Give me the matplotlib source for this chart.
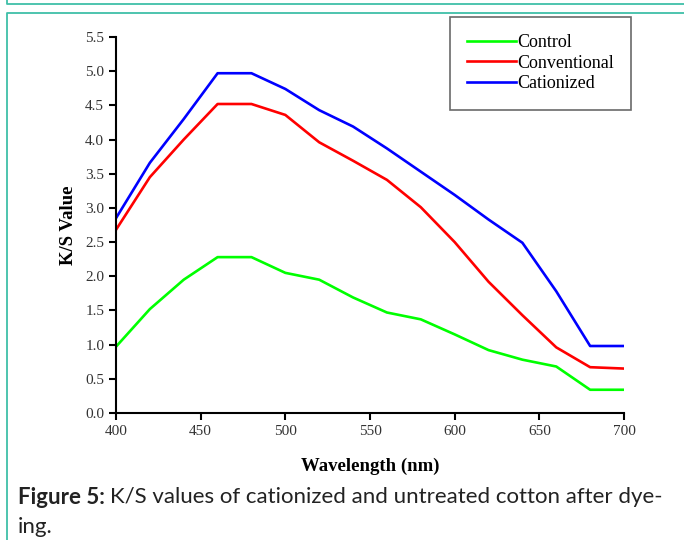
import numpy as np
import matplotlib.pyplot as plt
from matplotlib.lines import Line2D

# Data
wavelength = [400, 420, 440, 460, 480, 500, 520, 540, 560, 580, 600, 620, 640, 660, 680, 700]
control = [0.97, 1.52, 1.95, 2.28, 2.28, 2.05, 1.95, 1.69, 1.47, 1.37, 1.15, 0.92, 0.78, 0.68, 0.34, 0.34]
conventional = [2.68, 3.45, 4.00, 4.52, 4.52, 4.36, 3.96, 3.69, 3.41, 3.01, 2.50, 1.92, 1.43, 0.96, 0.67, 0.65]
cationized = [2.85, 3.66, 4.30, 4.97, 4.97, 4.74, 4.43, 4.19, 3.87, 3.53, 3.19, 2.83, 2.49, 1.78, 0.98, 0.98]
series_names = ['Control', 'Conventional', 'Cationized']
xticks = [400, 450, 500, 550, 600, 650, 700]
yticks = [0.0, 0.5, 1.0, 1.5, 2.0, 2.5, 3.0, 3.5, 4.0, 4.5, 5.0, 5.5]

W, H = 684, 540
fig = plt.figure(figsize=(W / 100, H / 100), dpi=100)

# teal page frames
teal = '#3fbfa8'
def fline(xs, ys):
    fig.add_artist(Line2D([x / W for x in xs], [1 - y / H for y in ys],
                          color=teal, lw=1.3, transform=fig.transFigure))
fline([7, 7, 690], [-2, 4, 4])
fline([7, 7, 690], [545, 13, 13])

ax = fig.add_axes([116 / W, 1 - 413 / H, 508 / W, 376 / H])
serif = 'Liberation Serif'

ax.plot(wavelength, control, color='#00ff00', lw=1.9, label=series_names[0])
ax.plot(wavelength, conventional, color='#ff0000', lw=1.9, label=series_names[1])
ax.plot(wavelength, cationized, color='#0000ff', lw=1.9, label=series_names[2])

ax.set_xlim(400, 700)
ax.set_ylim(0, 5.5)
ax.set_xticks(xticks)
ax.set_yticks(yticks)
ax.set_yticklabels([f'{v:.1f}' for v in yticks])
for s in ['top', 'right']:
    ax.spines[s].set_visible(False)
for s in ['left', 'bottom']:
    ax.spines[s].set_linewidth(1.5)
ax.tick_params(direction='out', length=5, width=1.5, colors='black',
               labelcolor='#333333', labelsize=11)
for lab in ax.get_xticklabels() + ax.get_yticklabels():
    lab.set_family(serif)

ax.set_xlabel('Wavelength (nm)', family=serif, fontweight='bold', fontsize=13.5, labelpad=14)
ax.set_ylabel('K/S Value', family=serif, fontweight='bold', fontsize=13.5, labelpad=6)

leg = fig.legend(loc='upper left', bbox_to_anchor=(450 / W, 1 - 17 / H),
                 prop={'family': serif, 'size': 13}, frameon=True, fancybox=False,
                 handlelength=2.7, handletextpad=0.05, borderpad=0.95, labelspacing=0.2,
                 borderaxespad=0)
leg.get_frame().set_edgecolor('#444444')
leg.get_frame().set_linewidth(1.2)

# caption
cap_font = 'Lato'
cap_size = 16
t1 = fig.text(18 / W, 1 - 497 / H, 'Figure 5:', family=cap_font, fontweight='bold',
              fontsize=cap_size, va='center', color='#222222')
fig.canvas.draw()
bb = t1.get_window_extent()
fig.text(bb.x1 / W + 5 / W, 1 - 497 / H,
         'K/S values of cationized and untreated cotton after dye-',
         family=cap_font, fontsize=cap_size, va='center', color='#222222')
fig.text(18 / W, 1 - 527 / H, 'ing.', family=cap_font, fontsize=cap_size, va='center', color='#222222')

fig.savefig('out.png', dpi=100)
